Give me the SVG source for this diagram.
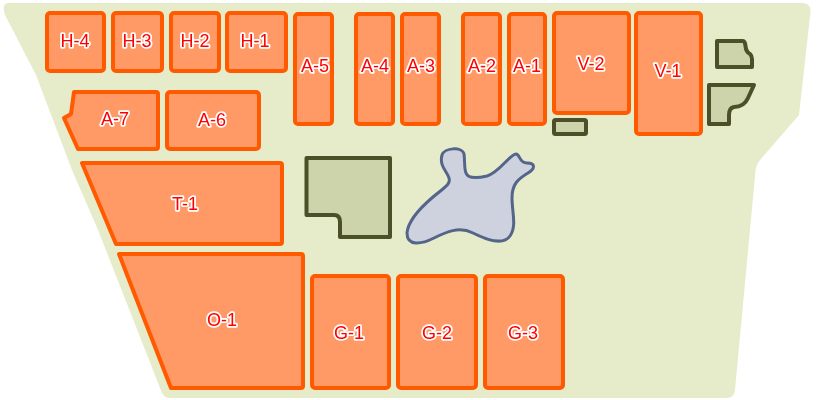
<svg xmlns="http://www.w3.org/2000/svg" width="820" height="400" viewBox="0 0 820 400">
<defs>
<filter id="soft" filterUnits="userSpaceOnUse" x="0" y="0" width="820" height="400" color-interpolation-filters="sRGB"><feGaussianBlur stdDeviation="0.6"/></filter>
</defs>
<style>
.u{fill:#ff9966;stroke:#ff5a00;stroke-width:4;stroke-linejoin:round}
.b{fill:#cdd4ac;stroke:#4b5028;stroke-width:4;stroke-linejoin:round}
.t{font-family:"Liberation Sans",Arial,sans-serif;font-size:18px;fill:#ff0000;stroke:#ffffff;stroke-width:3.500;stroke-linejoin:round;paint-order:stroke fill;text-anchor:middle}
</style>
<g filter="url(#soft)">
<path id="site" d="M9 3H802Q811 3 810.500 12L799 115L760 160Q756 165 755.500 171L735 390Q734 398 727 398H170Q164 398 162 393L98 230L72 170L36 75L5 15Q1 3 9 3Z" fill="#e6ecca"/>
<g id="H-4"><rect class="u" x="47" y="13" width="57" height="58" rx="3"/><text class="t" x="75" y="47">H-4</text></g>
<g id="H-3"><rect class="u" x="113" y="13" width="49" height="58" rx="3"/><text class="t" x="137" y="47">H-3</text></g>
<g id="H-2"><rect class="u" x="171" y="13" width="48" height="58" rx="3"/><text class="t" x="195" y="47">H-2</text></g>
<g id="H-1"><rect class="u" x="227" y="13" width="59" height="58" rx="3"/><text class="t" x="255" y="47">H-1</text></g>
<g id="A-5"><rect class="u" x="295" y="14" width="37" height="110" rx="3"/><text class="t" x="315" y="72">A-5</text></g>
<g id="A-4"><rect class="u" x="356" y="14" width="37" height="110" rx="3"/><text class="t" x="375" y="72">A-4</text></g>
<g id="A-3"><rect class="u" x="402" y="14" width="37" height="110" rx="3"/><text class="t" x="421" y="72">A-3</text></g>
<g id="A-2"><rect class="u" x="463" y="14" width="37" height="110" rx="3"/><text class="t" x="482" y="72">A-2</text></g>
<g id="A-1"><rect class="u" x="509" y="14" width="36" height="110" rx="3"/><text class="t" x="527" y="72">A-1</text></g>
<g id="V-2"><rect class="u" x="554" y="13" width="75" height="100" rx="3"/><text class="t" x="591" y="70">V-2</text></g>
<g id="V-1"><rect class="u" x="636" y="13" width="65" height="121" rx="3"/><text class="t" x="668" y="77">V-1</text></g>
<g id="A-7"><path class="u" d="M74 92H156Q158 92 158 94V147Q158 149 156 149H78L64 118L71 114Z"/><text class="t" x="115" y="125">A-7</text></g>
<g id="A-6"><rect class="u" x="167" y="92" width="92" height="57" rx="3"/><text class="t" x="212" y="126">A-6</text></g>
<g id="T-1"><path class="u" d="M82 163H280Q282 163 282 165V242Q282 244 280 244H116Z"/><text class="t" x="185" y="210">T-1</text></g>
<g id="O-1"><path class="u" d="M119 254H301Q303 254 303 256V386Q303 388 301 388H171Z"/><text class="t" x="222" y="326">O-1</text></g>
<g id="G-1"><rect class="u" x="312" y="276" width="77" height="112" rx="3"/><text class="t" x="349" y="339">G-1</text></g>
<g id="G-2"><rect class="u" x="398" y="276" width="78" height="112" rx="3"/><text class="t" x="437" y="339">G-2</text></g>
<g id="G-3"><rect class="u" x="485" y="276" width="78" height="112" rx="3"/><text class="t" x="523" y="339">G-3</text></g>
<g id="B-1"><rect class="b" x="554" y="120" width="32" height="14" rx="1.500"/></g>
<g id="B-2"><path class="b" d="M717 41H743Q745 41 745.500 46Q746 52 750 54Q752 56 752 59V67H717Z"/></g>
<g id="B-3"><path class="b" d="M709 85H754L748 98Q744 107 734 107Q729 108 729 115V124H709Z"/></g>
<g id="B-4"><path class="b" d="M306.500 158H390V237H340V222Q340 215 334 215H306.500Z"/></g>
<g id="P-1"><path d="M442 155C444 148 462 146 464 154C465 161 464 168 466 173C468 179 478 178 487 176C499 173 510 154 516 154C520 154 519 163 527 163C536 163 535 169 528 173C518 179 512 184 512 198C512 212 517 226 510 236C503 246 487 240 473 233C459 226 446 232 434 238C422 244 407 247 407 233C408 222 420 208 433 197C445 187 451 184 449 178C447 171 439 166 442 155Z" fill="#cdd2de" stroke="#55658a" stroke-width="3"/></g>
</g>
</svg>
